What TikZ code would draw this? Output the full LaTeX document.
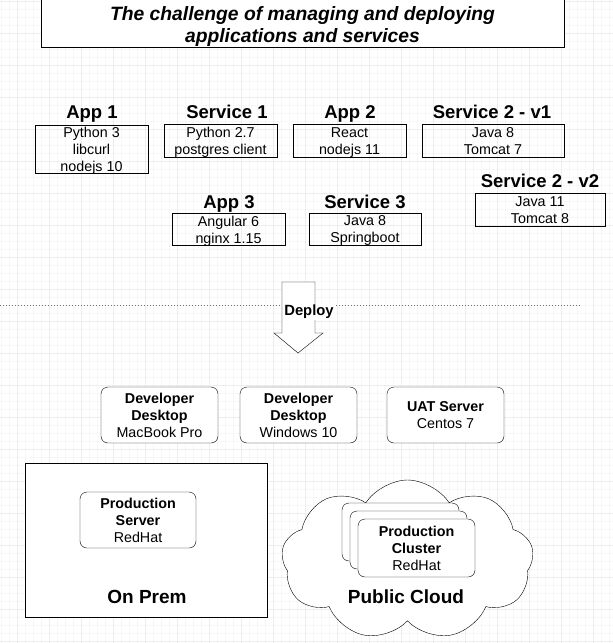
\documentclass[tikz,border=0pt]{standalone}
\usepackage{fontspec}
\setmainfont{Liberation Sans}
\usetikzlibrary{shapes.symbols}

\begin{document}
\begin{tikzpicture}[x=1pt,y=-1pt,
    box/.style={draw, inner sep=0pt, align=center, text depth=0pt, font=\fontsize{14.3}{17}\selectfont},
    host/.style={box, rounded corners=7pt, fill=white},
    head/.style={anchor=base, font=\fontsize{18.5}{21}\selectfont\bfseries},
    big/.style={font=\fontsize{19}{22}\selectfont\bfseries},
    bf/.style={font=\fontsize{14.8}{17}\selectfont\bfseries}]
    \useasboundingbox (0,0) rectangle (613,643);
    % draw background grid
    \foreach \x in {1,9,...,613}
      \draw[black!3] (\x,0) -- (\x,643);
    \foreach \y in {1,9,...,643}
      \draw[black!3] (0,\y) -- (613,\y);
    \foreach \x in {17,49,...,613}
      \draw[black!7] (\x,0) -- (\x,643);
    \foreach \y in {1,33,...,643}
      \draw[black!7] (0,\y) -- (613,\y);

    % draw title
    \node[draw, fill=white, minimum width=523, minimum height=50] (title) at (302.5,22) {};
    \node[align=center, font=\fontsize{19.3}{22}\selectfont\bfseries\itshape] (titletext)
      at (302.5,27) {The challenge of managing and deploying\\applications and services};

    % draw apps and services
    \node[box, minimum width=113, minimum height=48] (app1) at (91.5,149) {Python 3\\libcurl\\nodejs 10};
    \node[head] (app1l) at (92,118) {App 1};
    \node[box, minimum width=113, minimum height=33] (svc1) at (220.5,141) {Python 2.7\\postgres client};
    \node[head] (svc1l) at (227,118) {Service 1};
    \node[box, minimum width=113, minimum height=33] (app2) at (349.5,141) {React\\nodejs 11};
    \node[head] (app2l) at (350,118) {App 2};
    \node[box, minimum width=142, minimum height=33] (svc2a) at (493,141) {Java 8\\Tomcat 7};
    \node[head] (svc2al) at (492,118) {Service 2 - v1};
    \node[box, minimum width=130, minimum height=33] (svc2b) at (540,210) {Java 11\\Tomcat 8};
    \node[head] (svc2bl) at (540,187) {Service 2 - v2};
    \node[box, minimum width=113, minimum height=32] (app3) at (228.5,229.5) {Angular 6\\nginx 1.15};
    \node[head] (app3l) at (229,208) {App 3};
    \node[box, minimum width=112, minimum height=32] (svc3) at (365,229.5) {Java 8\\Springboot};
    \node[head] (svc3l) at (365,208) {Service 3};

    % draw dotted line and deploy arrow
    \coordinate (lineL) at (0,305);
    \coordinate (lineR) at (580,305);
    \draw[black!55, line width=0.9pt, dash pattern=on 1.2pt off 1.8pt] (lineL) -- (lineR);
    \draw[fill=white] (282,282) -- (315,282) -- (315,333) -- (323,333) -- (298,353)
      -- (274,333) -- (282,333) -- cycle;
    \node[bf, fill=white, inner sep=1pt] (deploy) at (309,312) {Deploy};

    % draw desktops and servers
    \node[host, minimum width=117, minimum height=56] (mac) at (159.5,415)
      {\textbf{Developer}\\\textbf{Desktop}\\MacBook Pro};
    \node[host, minimum width=117, minimum height=56] (win) at (298.5,415)
      {\textbf{Developer}\\\textbf{Desktop}\\Windows 10};
    \node[host, minimum width=117, minimum height=56] (uat) at (445.5,415)
      {\textbf{UAT Server}\\Centos 7};

    % draw on prem
    \node[draw, fill=white, minimum width=242, minimum height=154] (onprem) at (146,540) {};
    \node[host, minimum width=116, minimum height=56] (prod) at (138,520)
      {\textbf{Production}\\\textbf{Server}\\RedHat};
    \node[big] (onpreml) at (147,597) {On Prem};

    % draw public cloud
    \node[cloud, draw, fill=white, cloud puffs=9, cloud puff arc=115, aspect=1.6,
      minimum width=252, minimum height=160, inner sep=0pt] (cloud) at (407.5,560) {};
    \node[host, minimum width=117, minimum height=58] (clus1) at (400.5,532) {};
    \node[host, minimum width=117, minimum height=58] (clus2) at (408.5,540) {};
    \node[host, minimum width=117, minimum height=58] (clus3) at (416.5,548)
      {\textbf{Production}\\\textbf{Cluster}\\RedHat};
    \node[big] (cloudl) at (406,597) {Public Cloud};
\end{tikzpicture}
\end{document}
